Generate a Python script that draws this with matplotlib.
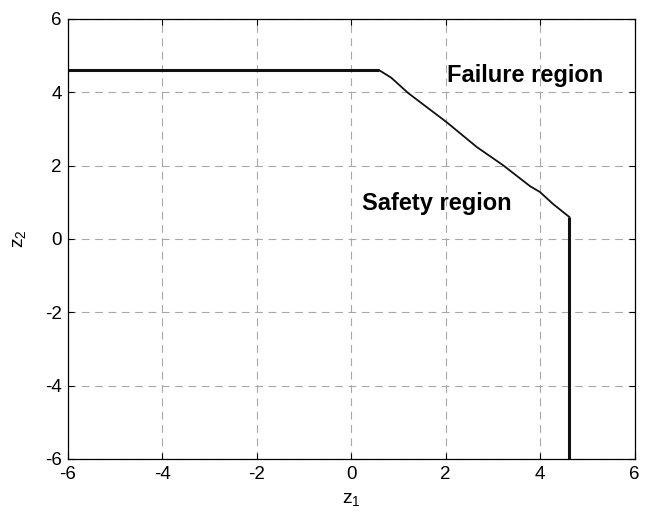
import numpy as np
import matplotlib.pyplot as plt

# limit-state boundary
top_x = [-6.0, 0.6]
top_y = [4.6, 4.6]

curve_x = [0.6, 0.85, 1.21, 1.64, 2.02, 2.66, 3.22, 3.79, 4.0, 4.28, 4.62]
curve_y = [4.6, 4.4, 3.98, 3.56, 3.19, 2.51, 2.01, 1.44, 1.28, 0.95, 0.6]

side_x = [4.62, 4.62]
side_y = [0.6, -6.0]

ticks = [-6, -4, -2, 0, 2, 4, 6]

plt.rcParams['font.family'] = ['Liberation Sans', 'DejaVu Sans']
plt.rcParams['axes.unicode_minus'] = False

fig = plt.figure(figsize=(6.46, 5.16), dpi=100)
ax = fig.add_axes([0.1045, 0.1105, 0.8777, 0.8527])

ax.plot(top_x, top_y, color='#111111', lw=2.2, solid_capstyle='butt')
ax.plot(curve_x, curve_y, color='#111111', lw=1.3)
ax.plot(side_x, side_y, color='#111111', lw=2.2, solid_capstyle='butt')

ax.text(2.03, 4.46, 'Failure region', fontsize=17, fontweight='bold', va='center', ha='left')
ax.text(0.23, 0.97, 'Safety region', fontsize=17, fontweight='bold', va='center', ha='left')

ax.set_xlim(-6, 6)
ax.set_ylim(-6, 6)
ax.set_xticks(ticks)
ax.set_yticks(ticks)
ax.grid(True, linestyle=(0, (7, 5)), color='#a8a8a8', lw=0.8)
ax.tick_params(direction='in', top=True, right=True, labelsize=13.5, length=4)
ax.tick_params(axis='x', pad=5)
ax.tick_params(axis='y', pad=4)
for s in ax.spines.values():
    s.set_linewidth(0.9)

ax.set_xlabel(r'$\mathregular{z_1}$', fontsize=14, labelpad=6)
ax.set_ylabel(r'$\mathregular{z_2}$', fontsize=14, labelpad=12)

fig.savefig('out.png', dpi=100)
